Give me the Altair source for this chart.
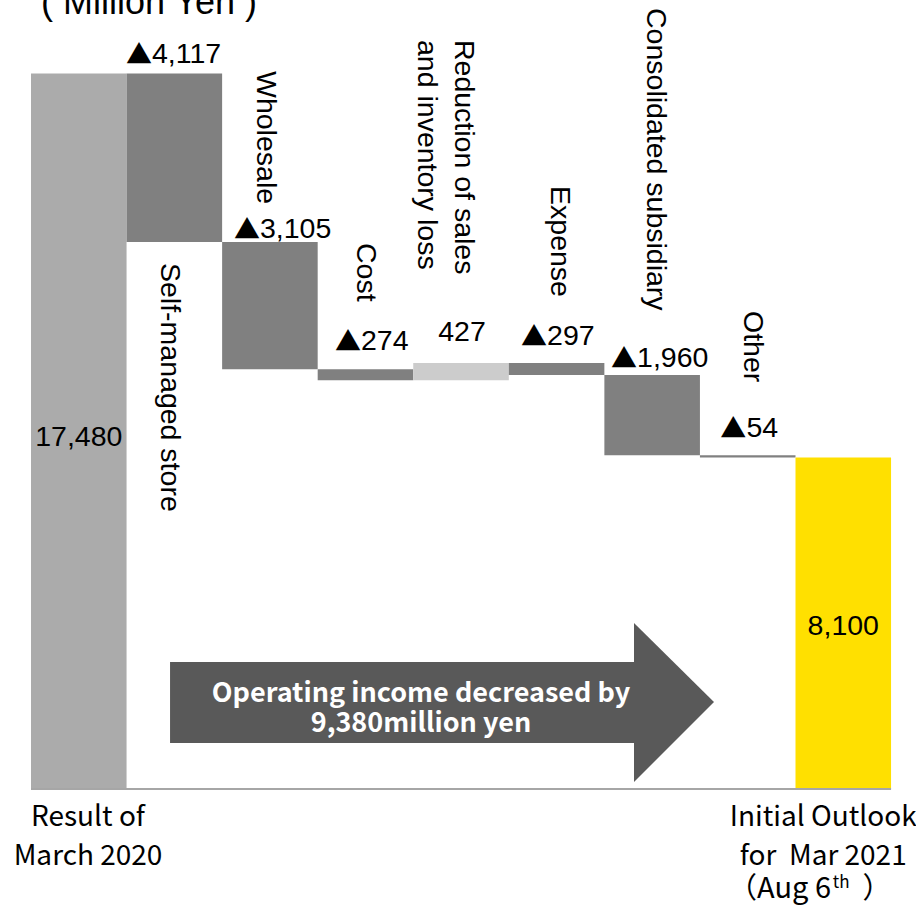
import altair as alt
import pandas as pd

# ---------------- data ----------------
steps = ["Result of March 2020", "Self-managed store", "Wholesale", "Cost",
         "Reduction of sales and inventory loss", "Expense",
         "Consolidated subsidiary", "Other", "Initial Outlook for Mar 2021 (Aug 6th)"]
step_kind = ["start", "decrease", "decrease", "decrease", "increase",
             "decrease", "decrease", "decrease", "end"]
step_values = [17480, -4117, -3105, -274, 427, -297, -1960, -54, 8100]
value_text = ["17,480", "▲4,117", "▲3,105", "▲274", "427", "▲297", "▲1,960", "▲54", "8,100"]

bar_labels = ["Self-managed store", "Wholesale", "Cost",
              "Reduction of sales\nand inventory loss", "Expense",
              "Consolidated subsidiary", "Other"]
bar_label_index = [1, 2, 3, 4, 5, 6, 7]

left_label = "Result of\nMarch 2020"
right_label = "Initial Outlook\nfor\u00a0 Mar 2021"
right_label_3 = ["（Aug 6", "th", "）"]
arrow_text = "Operating income decreased by\n9,380million yen"
unit_text = "( Million Yen )"

# ---------------- layout (data units) ----------------
W, H = 916, 907
X_DOM = [-0.8244, 8.761]
Y_DOM = [-2883, 19277]

# centred labels: x shift; ▲ labels: x of the split between ▲ and the digits
val_shift_x = [0, -0.234, -0.104, -0.047, 0.01, -0.1, -0.158, -0.014, 0]
val_lift = [-360, 258, 99, 468, 535, 437, 196, 446, -287]

cat_shift_x = [-0.045, -0.044, 0.003, 0.034, 0.033, 0.037, 0.055]
cat_start_y = [12851, 17542, 13340, 18300, 14732, 19081, 11679]

# arrow: body rectangle and triangular head
arrow_body = {"x": 0.955, "x2": 5.82, "y": 3103, "y2": 1124}
head_x = [5.81, 6.647]
head_top = [4056, 2126]
head_bot = [171, 2126]

# ---------------- build tables ----------------
start, end = [], []
run = 0
for k, v in zip(step_kind, step_values):
    if k in ("start", "end"):
        start.append(0)
        end.append(v)
        run = v
    else:
        start.append(run)
        run += v
        end.append(run)

n = len(steps)
bars = pd.DataFrame({
    "step": steps,
    "kind": step_kind,
    "x0": [i - 0.5 for i in range(n)],
    "x1": [i + 0.5 for i in range(n)],
    "y0": start,
    "y1": end,
})

centre_rows, tri_rows, num_rows = [], [], []
for i in range(n):
    if step_kind[i] in ("start", "end"):
        anchor = step_values[i] / 2
    else:
        anchor = max(start[i], end[i])
    x = i + val_shift_x[i]
    y = anchor + val_lift[i]
    t = value_text[i]
    if t.startswith("▲"):
        tri_rows.append({"x": x, "y": y, "t": "▲"})
        num_rows.append({"x": x, "y": y, "t": t[1:]})
    else:
        centre_rows.append({"x": x, "y": y, "t": t})

cats = pd.DataFrame({
    "x": [bi + s for bi, s in zip(bar_label_index, cat_shift_x)],
    "y": cat_start_y,
    "t": bar_labels,
})

xs = alt.Scale(domain=X_DOM, nice=False, zero=False)
ys = alt.Scale(domain=Y_DOM, nice=False, zero=False)


def X(f="x"):
    return alt.X(f + ":Q", scale=xs, axis=None)


def Y(f="y"):
    return alt.Y(f + ":Q", scale=ys, axis=None)


color_scale = alt.Scale(domain=["start", "decrease", "increase", "end"],
                        range=["#ABABAB", "#808080", "#CCCCCC", "#FFE000"])

bar_layer = alt.Chart(bars).mark_rect().encode(
    x=X("x0"), x2="x1:Q", y=Y("y0"), y2="y1:Q",
    color=alt.Color("kind:N", scale=color_scale, legend=None),
)

base_df = pd.DataFrame({"x": [-0.5], "x2": [n - 0.5], "y": [0]})
base_layer = alt.Chart(base_df).mark_rule(color="#A6A6A6", strokeWidth=2).encode(
    x=X(), x2="x2:Q", y=Y(),
)

body_layer = alt.Chart(pd.DataFrame([arrow_body])).mark_rect(color="#595959").encode(
    x=X(), x2="x2:Q", y=Y(), y2="y2:Q",
)

head_layer = alt.Chart(pd.DataFrame({"x": head_x, "y": head_top, "y2": head_bot})).mark_area(
    color="#595959", orient="vertical", interpolate="linear", opacity=1).encode(
    x=X(),
    y=alt.Y("y:Q", scale=ys, axis=None, stack=None),
    y2="y2:Q",
)

LAT = "Liberation Sans"
JP = "Noto Sans CJK JP"

centre_layer = alt.Chart(pd.DataFrame(centre_rows)).mark_text(
    font=LAT, fontSize=28.5, color="#000000", align="center", baseline="alphabetic").encode(
    x=X(), y=Y(), text="t:N")

tri_layer = alt.Chart(pd.DataFrame(tri_rows)).mark_text(
    font=JP, fontSize=26, color="#000000", align="right", baseline="alphabetic", dy=1).encode(
    x=X(), y=Y(), text="t:N")

num_layer = alt.Chart(pd.DataFrame(num_rows)).mark_text(
    font=LAT, fontSize=28.5, color="#000000", align="left", baseline="alphabetic").encode(
    x=X(), y=Y(), text="t:N")

cat_layer = alt.Chart(cats).mark_text(font=LAT, fontSize=28.5, color="#000000",
                                      angle=90, align="left", baseline="middle",
                                      lineBreak="\n", lineHeight=37).encode(
    x=X(), y=Y(), text="t:N")

bottom_df = pd.DataFrame({"x": [0.0965, 7.79], "y": [-904, -904],
                          "t": [left_label, right_label]})
bottom_layer = alt.Chart(bottom_df).mark_text(font=JP, fontSize=28, color="#000000",
                                              align="center", baseline="alphabetic",
                                              lineBreak="\n", lineHeight=39).encode(
    x=X(), y=Y(), text="t:N")

b3a = alt.Chart(pd.DataFrame({"x": [7.872], "y": [-2660], "t": [right_label_3[0]]})).mark_text(
    font=JP, fontSize=29, color="#000000", align="right", baseline="alphabetic").encode(
    x=X(), y=Y(), text="t:N")
b3b = alt.Chart(pd.DataFrame({"x": [7.89], "y": [-2420], "t": [right_label_3[1]]})).mark_text(
    font=JP, fontSize=17, color="#000000", align="left", baseline="alphabetic").encode(
    x=X(), y=Y(), text="t:N")
b3c = alt.Chart(pd.DataFrame({"x": [8.2], "y": [-2660], "t": [right_label_3[2]]})).mark_text(
    font=JP, fontSize=29, color="#000000", align="left", baseline="alphabetic").encode(
    x=X(), y=Y(), text="t:N")

arrow_txt = alt.Chart(pd.DataFrame({"x": [3.581], "y": [2126], "t": [arrow_text]})).mark_text(
    font=JP, fontSize=27, fontWeight="bold", color="#FFFFFF", align="center",
    baseline="alphabetic", lineBreak="\n", lineHeight=30).encode(
    x=X(), y=Y(), text="t:N")

title_layer = alt.Chart(pd.DataFrame({"t": [unit_text]})).mark_text(
    font=LAT, fontSize=36, color="#000000", align="center", baseline="alphabetic").encode(
    x=alt.value(149), y=alt.value(14), text="t:N")

chart = alt.layer(
    bar_layer, base_layer, body_layer, head_layer, centre_layer, tri_layer, num_layer,
    cat_layer, bottom_layer, b3a, b3b, b3c, arrow_txt, title_layer,
).properties(
    width=W, height=H, padding=0,
    autosize=alt.AutoSizeParams(type="none"),
    background="#FFFFFF",
).configure_view(stroke=None)

chart.save("out.html", embed_options={"renderer": "svg", "actions": False})
